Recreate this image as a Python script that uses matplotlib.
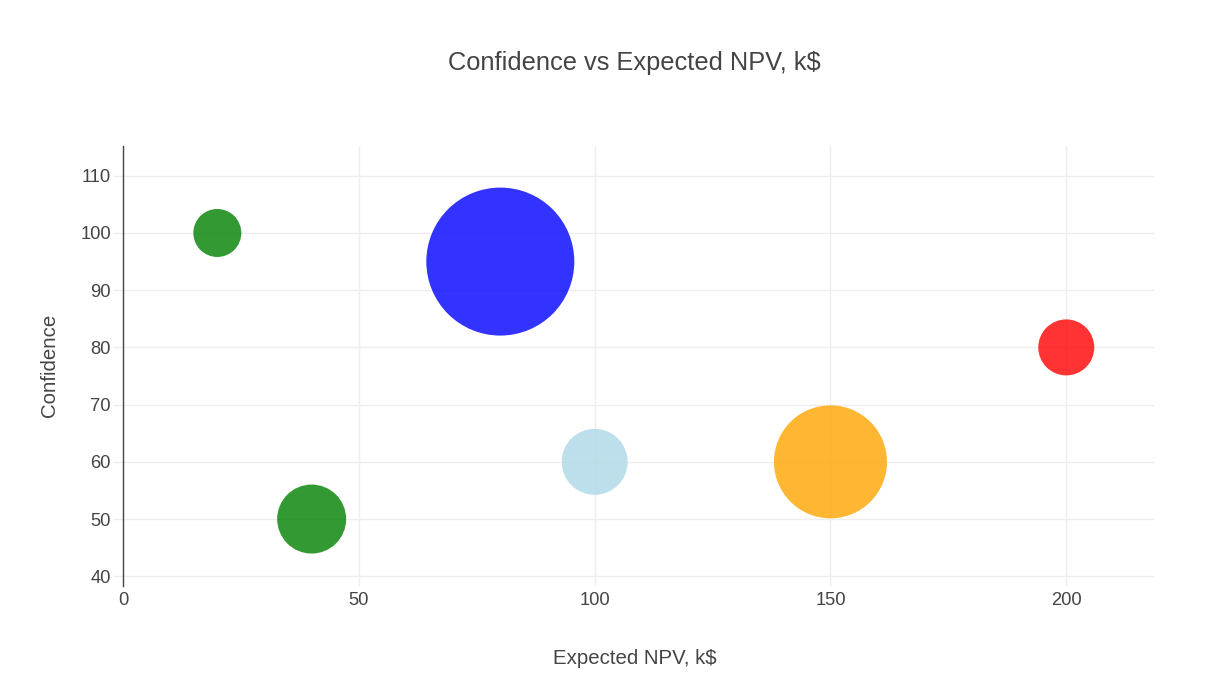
import matplotlib
matplotlib.use("Agg")
import matplotlib.pyplot as plt

# Data
npv = [20, 80, 40, 100, 150, 200]
confidence = [100, 95, 50, 60, 60, 80]
bubble_diam_px = [48, 148, 69, 66, 113, 56]
colors = ["green", "blue", "green", "lightblue", "orange", "red"]
x_ticks = [0, 50, 100, 150, 200]
y_ticks = [40, 50, 60, 70, 80, 90, 100, 110]

W, H, DPI = 1219, 700, 100
TXT = "#444444"
GRID = "#eeeeee"

plt.rcParams["font.family"] = ["Liberation Sans", "DejaVu Sans"]

fig = plt.figure(figsize=(W / DPI, H / DPI), dpi=DPI)
left, right, top, bottom = 123, 1154, 146, 586
ax = fig.add_axes([left / W, 1 - bottom / H, (right - left) / W, (bottom - top) / H])

sizes = [(d * 72 / DPI) ** 2 for d in bubble_diam_px]
ax.scatter(npv, confidence, s=sizes, c=colors, alpha=0.8, linewidths=0, zorder=3)

ax.set_xlim(0, 218.6)
ax.set_ylim(38.3, 115.2)
ax.set_xticks(x_ticks)
ax.set_yticks(y_ticks)
ax.grid(True, color=GRID, linewidth=1.0, zorder=0)
ax.set_axisbelow(True)

for s in ["top", "right", "bottom"]:
    ax.spines[s].set_visible(False)
ax.spines["left"].set_color(TXT)
ax.spines["left"].set_linewidth(1.0)

ax.tick_params(axis="x", length=0, pad=4, labelsize=13.2, labelcolor=TXT)
ax.tick_params(axis="y", length=7.2, width=1.0, color=GRID, pad=1.5,
               labelsize=13.2, labelcolor=TXT)

fig.text(634.5 / W, 1 - 63 / H, "Confidence vs Expected NPV, k$",
         ha="center", va="center", fontsize=18.3, color=TXT)
fig.text(634.5 / W, 1 - 658 / H, "Expected NPV, k$",
         ha="center", va="center", fontsize=14.7, color=TXT)
fig.text(50 / W, 1 - 365 / H, "Confidence", rotation=90,
         ha="center", va="center", fontsize=14.7, color=TXT)

fig.savefig("out.png", dpi=DPI, facecolor="white")
